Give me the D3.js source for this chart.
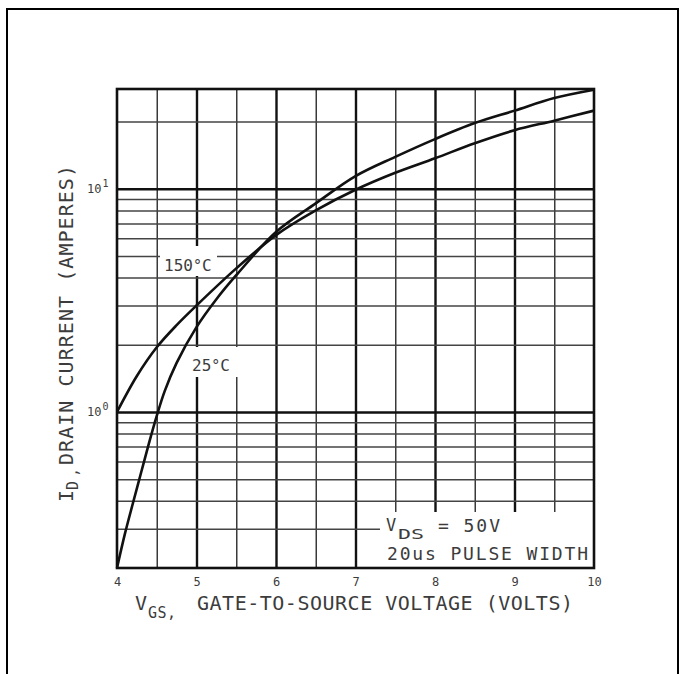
<!DOCTYPE html>
<html>
<head>
<meta charset="utf-8">
<script src="https://cdn.jsdelivr.net/npm/d3@7"></script>
<style>
  html, body { margin: 0; padding: 0; background: #fff; }
  svg { display: block; }
  text { font-family: "DejaVu Sans Mono", "Liberation Mono", monospace; fill: #3c3c3c; }
</style>
</head>
<body>
<svg id="chart" width="680" height="674"></svg>
<script>
// Transfer characteristics: drain current vs gate-to-source voltage
const vgs150 = [4.0, 4.25, 4.5, 4.75, 5.0, 5.5, 6.0, 6.5, 7.0, 7.5, 8.0, 8.5, 9.0, 9.5, 10.0];
const id150  = [1.0, 1.45, 1.95, 2.45, 3.0, 4.4, 6.2, 8.0, 9.9, 11.8, 13.7, 16.0, 18.3, 20.2, 22.4];

const vgs25 = [4.0, 4.1, 4.2, 4.3, 4.4, 4.5, 4.6, 4.75, 5.0, 5.25, 5.5, 6.0, 6.5, 7.0, 7.5, 8.0, 8.5, 9.0, 9.5, 10.0];
const id25  = [0.2, 0.285, 0.39, 0.53, 0.72, 0.96, 1.24, 1.66, 2.4, 3.2, 4.1, 6.4, 8.6, 11.4, 13.9, 16.7, 19.7, 22.4, 25.5, 27.8];

const xTickValues = [4, 5, 6, 7, 8, 9, 10];
const xTickLabels = ["4", "5", "6", "7", "8", "9", "10"];
const vGridValues = [4.5, 5, 5.5, 6, 6.5, 7, 7.5, 8, 8.5, 9, 9.5];
const hGridValues = [0.3, 0.4, 0.5, 0.6, 0.7, 0.8, 0.9, 1, 2, 3, 4, 5, 6, 7, 8, 9, 10, 20];
const yTickValues = [1, 10];
const yTickExponents = ["0", "1"];

const svg = d3.select("#chart");
svg.append("rect").attr("width", 680).attr("height", 674).attr("fill", "#fff");

// page frame (open at the bottom)
svg.append("path")
  .attr("d", "M7,674V9H678V674")
  .attr("fill", "none").attr("stroke", "#000").attr("stroke-width", 2);

const L = 117, T = 89, R = 594, B = 568;
const x = d3.scaleLinear().domain([4, 10]).range([L, R]);
const y = d3.scaleLog().domain([0.2, 28]).range([B, T]);

// vertical grid
const gx = svg.append("g").attr("transform", `translate(0,${B})`)
  .call(d3.axisBottom(x).tickValues(vGridValues).tickSize(-(B - T)).tickFormat(""));
gx.select(".domain").remove();
gx.selectAll(".tick line")
  .attr("stroke", d => Number.isInteger(d) ? "#111" : "#3a3a3a")
  .attr("stroke-width", d => Number.isInteger(d) ? 2.4 : 1.5);

// horizontal grid
const gy = svg.append("g").attr("transform", `translate(${L},0)`)
  .call(d3.axisLeft(y).tickValues(hGridValues).tickSize(-(R - L)).tickFormat(""));
gy.select(".domain").remove();
gy.selectAll(".tick line")
  .attr("stroke", d => (d === 1 || d === 10) ? "#111" : "#444")
  .attr("stroke-width", d => (d === 1 || d === 10) ? 2.4 : 1.5);

// white knock-outs behind the in-plot notes
svg.append("rect").attr("x", 160).attr("y", 246).attr("width", 57).attr("height", 30).attr("fill", "#fff");
svg.append("rect").attr("x", 188).attr("y", 347).attr("width", 51).attr("height", 30).attr("fill", "#fff");
svg.append("rect").attr("x", 380).attr("y", 512).attr("width", R - 380).attr("height", B - 512).attr("fill", "#fff");

// plot border
svg.append("rect").attr("x", L).attr("y", T).attr("width", R - L).attr("height", B - T)
  .attr("fill", "none").attr("stroke", "#111").attr("stroke-width", 2.6);

// curves
const line = d3.line().x(d => x(d[0])).y(d => y(d[1])).curve(d3.curveCatmullRom.alpha(0.5));
[[vgs150, id150], [vgs25, id25]].forEach(([vs, is]) => {
  svg.append("path")
    .datum(vs.map((v, i) => [v, is[i]]))
    .attr("d", line)
    .attr("fill", "none").attr("stroke", "#111").attr("stroke-width", 2.6)
    .attr("stroke-linejoin", "round");
});

// x tick labels
const xa = svg.append("g").attr("transform", `translate(0,${B})`)
  .call(d3.axisBottom(x).tickValues(xTickValues).tickSize(0).tickPadding(9)
    .tickFormat((d, i) => xTickLabels[i]));
xa.select(".domain").remove();
xa.selectAll("text").attr("font-size", 12).attr("font-family", "DejaVu Sans Mono").attr("fill", "#3c3c3c");

// y tick labels (powers of ten)
yTickValues.forEach((v, i) => {
  const t = svg.append("text").attr("x", 87).attr("y", y(v) + 4).attr("font-size", 12);
  t.append("tspan").text("10");
  t.append("tspan").attr("font-size", 10).attr("dy", -6).attr("dx", 1).text(yTickExponents[i]);
});

// curve labels
function tempLabel(px, py, num) {
  const t = svg.append("text").attr("x", px).attr("y", py).attr("font-size", 16);
  t.append("tspan").text(num);
  t.append("tspan").attr("font-size", 15).text("°");
  t.append("tspan").text("C");
}
tempLabel(164, 271, "150");
tempLabel(192, 371, "25");

// test-condition note
svg.append("text").attr("x", 386).attr("y", 531).attr("font-size", 17).text("V");
svg.append("text").attr("x", 398).attr("y", 539).attr("font-size", 14)
  .attr("textLength", 26).attr("lengthAdjust", "spacingAndGlyphs").text("DS");
svg.append("text").attr("x", 438).attr("y", 532).attr("font-size", 18)
  .attr("textLength", 62).attr("lengthAdjust", "spacing").text("= 50V");
svg.append("text").attr("x", 387).attr("y", 560).attr("font-size", 18)
  .attr("textLength", 201).attr("lengthAdjust", "spacing").text("20us PULSE WIDTH");

// x axis title
svg.append("text").attr("x", 135).attr("y", 610).attr("font-size", 20).text("V");
svg.append("text").attr("x", 148).attr("y", 618).attr("font-size", 15)
  .attr("textLength", 28).attr("lengthAdjust", "spacing").text("GS,");
svg.append("text").attr("x", 197).attr("y", 610).attr("font-size", 20)
  .attr("textLength", 376).attr("lengthAdjust", "spacing")
  .text("GATE-TO-SOURCE VOLTAGE (VOLTS)");

// y axis title
const yt = svg.append("g").attr("transform", "translate(73,502) rotate(-90)");
yt.append("text").attr("x", 0).attr("y", 0).attr("font-size", 20).text("I");
yt.append("text").attr("x", 12).attr("y", 5).attr("font-size", 15)
  .attr("textLength", 22).attr("lengthAdjust", "spacing").text("D,");
yt.append("text").attr("x", 37).attr("y", 0).attr("font-size", 20)
  .attr("textLength", 300).attr("lengthAdjust", "spacing")
  .text("DRAIN CURRENT (AMPERES)");
</script>
</body>
</html>
